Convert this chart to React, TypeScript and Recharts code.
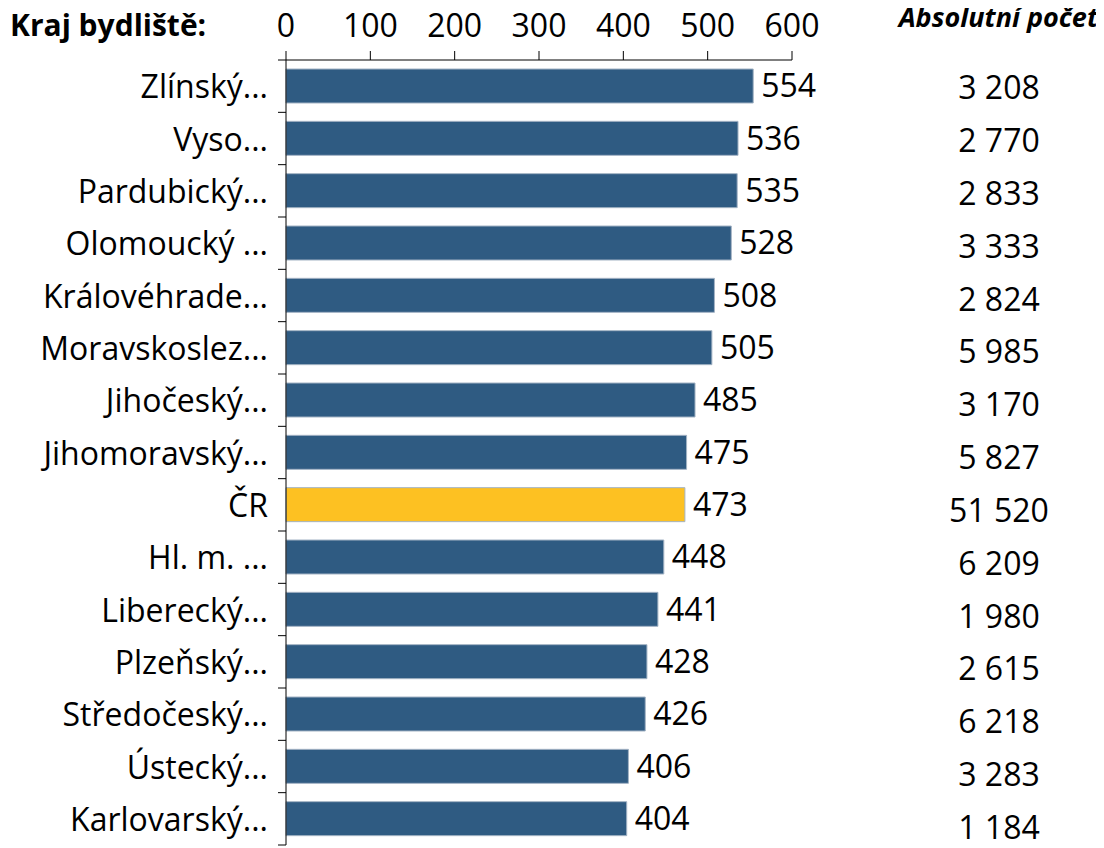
import { BarChart, Bar, XAxis, YAxis, Cell, LabelList } from 'recharts';

const regions = [
  'Zlínský...', 'Vyso...', 'Pardubický...', 'Olomoucký ...', 'Královéhrade...',
  'Moravskoslez...', 'Jihočeský...', 'Jihomoravský...', 'ČR', 'Hl. m. ...',
  'Liberecký...', 'Plzeňský...', 'Středočeský...', 'Ústecký...', 'Karlovarský...',
];
const rates = [554, 536, 535, 528, 508, 505, 485, 475, 473, 448, 441, 428, 426, 406, 404];
const absCounts = [
  '3 208', '2 770', '2 833', '3 333', '2 824', '5 985', '3 170', '5 827',
  '51 520', '6 209', '1 980', '2 615', '6 218', '3 283', '1 184',
];
const xTicks = [0, 100, 200, 300, 400, 500, 600];

const data = regions.map((name, i) => ({ name, rate: rates[i], abs: absCounts[i] }));

const FONT = '"Open Sans", sans-serif';
const BLUE = '#2F5B82';
const YELLOW = '#FDC122';

const W = 1090;
const H = 848;
const TOP = 60; // x axis height
const BOTTOM = 3;
const BAND = (H - TOP - BOTTOM) / regions.length;

// category label + tick marks on the band edges (Excel style)
const RegionTick = (props: any) => {
  const { x, y, payload, index } = props;
  const axisX = x + 18;
  const last = index === regions.length - 1;
  return (
    <g>
      <line x1={axisX - 8} x2={axisX} y1={y - BAND / 2} y2={y - BAND / 2} stroke="#000" />
      {last && <line x1={axisX - 8} x2={axisX} y1={y + BAND / 2} y2={y + BAND / 2} stroke="#000" />}
      <text x={x} y={y} dy={12} textAnchor="end" fontSize={32} fontFamily={FONT} fill="#000">
        {payload.value}
      </text>
    </g>
  );
};

// the count column drifts down slightly in the original layout
const AbsTick = (props: any) => {
  const { x, y, payload, index } = props;
  return (
    <text x={x + 199} y={y} dy={13 + 0.5 * index} textAnchor="middle" fontSize={32} fontFamily={FONT} fill="#000">
      {payload.value}
    </text>
  );
};

export default function App() {
  return (
    <div style={{ position: 'relative', width: W, height: H, marginTop: -8, fontFamily: FONT }}>
      <div style={{ position: 'absolute', left: 2, top: 4, fontSize: 30, fontWeight: 700, color: '#000', whiteSpace: 'nowrap' }}>
        Kraj bydliště:
      </div>
      <div
        style={{
          position: 'absolute', right: 0, top: -2, fontSize: 27, fontWeight: 700,
          fontStyle: 'italic', color: '#000', whiteSpace: 'nowrap',
        }}
      >
        Absolutní počet
      </div>
      <BarChart
        width={W}
        height={H}
        data={data}
        layout="vertical"
        margin={{ top: 0, right: 0, bottom: BOTTOM, left: 0 }}
        barSize={34}
      >
        <XAxis
          type="number"
          orientation="top"
          domain={[0, 600]}
          ticks={xTicks}
          height={TOP}
          tickSize={9}
          tickMargin={14}
          stroke="#000"
          tick={{ fill: '#000', fontSize: 32, fontFamily: FONT }}
        />
        <YAxis
          type="category"
          dataKey="name"
          width={278}
          axisLine={{ stroke: '#000' }}
          tickLine={false}
          tickSize={0}
          tickMargin={18}
          interval={0}
          tick={<RegionTick />}
        />
        <YAxis
          yAxisId="abs"
          type="category"
          dataKey="abs"
          orientation="right"
          width={306}
          axisLine={false}
          tickLine={false}
          interval={0}
          tick={<AbsTick />}
        />
        <Bar dataKey="rate" isAnimationActive={false} stroke="#A3B3C4" strokeWidth={1}>
          {data.map((d) => (
            <Cell key={d.name} fill={d.name === 'ČR' ? YELLOW : BLUE} />
          ))}
          <LabelList dataKey="rate" position="right" offset={8} fill="#000" fontSize={32} fontFamily={FONT} />
        </Bar>
      </BarChart>
    </div>
  );
}
